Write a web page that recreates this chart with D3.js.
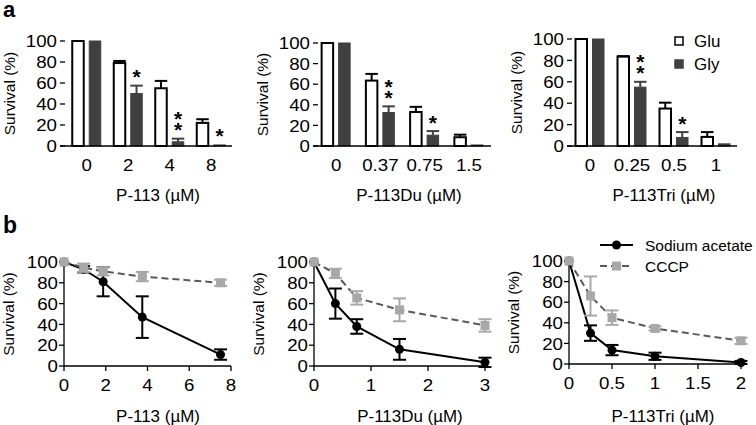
<!DOCTYPE html>
<html><head><meta charset="utf-8">
<script src="https://cdn.jsdelivr.net/npm/d3@7"></script>
<style>
body{margin:0;background:#fff;}
text{font-family:"Liberation Sans",Arial,sans-serif;fill:#000;}
</style></head>
<body><svg id="c" width="756" height="425"></svg>
<script>
// ---------- Panel a data (bar charts) ----------
const a1Cats = ["0","2","4","8"];
const a1Glu = [100, 79, 55, 22];
const a1GluErr = [0, 2, 7, 3.5];
const a1Gly = [100, 50, 4, 1];
const a1GlyErr = [0, 7.5, 3, 0];
const a1Sig = ["", "*", "**", "*"];

const a2Cats = ["0","0.37","0.75","1.5"];
const a2Glu = [100, 63.5, 33, 8.5];
const a2GluErr = [0, 6.5, 5, 2.5];
const a2Gly = [100, 32.5, 10.5, 1];
const a2GlyErr = [0, 6, 4, 0];
const a2Sig = ["", "**", "*", ""];

const a3Cats = ["0","0.25","0.5","1"];
const a3Glu = [100, 83.5, 35, 8.5];
const a3GluErr = [0, 0.5, 5.5, 4.5];
const a3Gly = [100, 55, 8, 2];
const a3GlyErr = [0, 5, 5, 0];
const a3Sig = ["", "**", "*", ""];

const barLegend = ["Glu", "Gly"];
const yTicks = [0, 20, 40, 60, 80, 100];

// ---------- Panel b data (line charts) ----------
const b1X = [0, 0.94, 1.875, 3.75, 7.5];
const b1Na = [100, 93, 81, 47, 11];
const b1NaErr = [0, 3, 14, 20, 5];
const b1Cccp = [100, 94.5, 91, 86, 80];
const b1CccpErr = [0, 4, 4, 4.5, 3];
const b1Ticks = [0, 2, 4, 6, 8];

const b2X = [0, 0.375, 0.75, 1.5, 3];
const b2Na = [100, 60, 38, 16, 3.5];
const b2NaErr = [0, 14.5, 7, 10, 4.5];
const b2Cccp = [100, 89, 65.5, 54, 39];
const b2CccpErr = [0, 4.5, 6.5, 11, 6];
const b2Ticks = [0, 1, 2, 3];

const b3X = [0, 0.25, 0.5, 1, 2];
const b3Na = [100, 30, 13.5, 7.5, 1.5];
const b3NaErr = [0, 7.5, 5, 3.5, 1.5];
const b3Cccp = [100, 66, 45, 34.5, 22.5];
const b3CccpErr = [0, 19, 7, 2, 3];
const b3Ticks = [0, 0.5, 1, 1.5, 2];

const lineLegend = ["Sodium acetate", "CCCP"];

// ---------- styles ----------
const DARK = "#404040", GRAY = "#a8a8a8", DASH = "#595959";
const TICK_FS = 17, TICK_SX = 1.1;
const TITLE_FS = 16, TITLE_SX = 1.06;

const svg = d3.select("#c");

function txt(g, x, y, s, size, sx, anchor, dy) {
  return g.append("text")
    .attr("transform", `translate(${x},${y}) scale(${sx},1)`)
    .attr("text-anchor", anchor || "start")
    .attr("dy", dy || 0)
    .attr("font-size", size).text(s);
}

txt(svg, 3, 17, "a", 22, 1, "start").attr("font-weight", "bold");
txt(svg, 3, 233, "b", 23, 1, "start").attr("font-weight", "bold");

function yAxisTicks(g, y, ax, labelRight) {
  yTicks.forEach(t => {
    g.append("line").attr("x1", ax - 5).attr("x2", ax).attr("y1", y(t)).attr("y2", y(t))
      .attr("stroke", "#000").attr("stroke-width", 1.3);
    txt(g, labelRight, y(t), t, TICK_FS, TICK_SX, "end", "0.36em");
  });
}

function ylabel(g, x, cy) {
  g.append("text").attr("transform", `translate(${x},${cy}) rotate(-90)`)
    .attr("text-anchor", "middle").attr("font-size", 15.5).text("Survival (%)");
}

// ---------- bar panels ----------
const barPanels = [
  {cats: a1Cats, glu: a1Glu, gluErr: a1GluErr, gly: a1Gly, glyErr: a1GlyErr, sig: a1Sig,
   title: "P-113 (µM)", range: [66, 232], ax: 65, y100: 41, y0: 146, titleX: 158},
  {cats: a2Cats, glu: a2Glu, gluErr: a2GluErr, gly: a2Gly, glyErr: a2GlyErr, sig: a2Sig,
   title: "P-113Du (µM)", range: [314, 491], ax: 318, y100: 43, y0: 146, titleX: 409},
  {cats: a3Cats, glu: a3Glu, gluErr: a3GluErr, gly: a3Gly, glyErr: a3GlyErr, sig: a3Sig,
   title: "P-113Tri (µM)", range: [569, 737], ax: 572, y100: 39, y0: 146, titleX: 664}
];

barPanels.forEach(p => {
  const g = svg.append("g");
  const x = d3.scaleBand().domain(p.cats).range(p.range);
  const y = d3.scaleLinear().domain([0, 100]).range([p.y0, p.y100]);
  const bw = 11.5;
  const series = [
    {vals: p.glu, errs: p.gluErr, off: -14.5, fill: "#fff", stroke: "#000"},
    {vals: p.gly, errs: p.glyErr, off: 2.5, fill: DARK, stroke: DARK}
  ];
  series.forEach(s => {
    p.cats.forEach((c, i) => {
      const cx = x(c) + x.bandwidth() / 2 + s.off;
      const v = s.vals[i], e = s.errs[i];
      if (e > 0) {
        g.append("line").attr("x1", cx + bw / 2).attr("x2", cx + bw / 2)
          .attr("y1", y(v)).attr("y2", y(v + e)).attr("stroke", s.stroke).attr("stroke-width", 2);
        g.append("line").attr("x1", cx - 0.5).attr("x2", cx + bw + 0.5)
          .attr("y1", y(v + e)).attr("y2", y(v + e)).attr("stroke", s.stroke).attr("stroke-width", 2);
      }
      g.append("rect").attr("x", cx).attr("y", y(v)).attr("width", bw)
        .attr("height", Math.max(0.5, y(0) - y(v)))
        .attr("fill", s.fill).attr("stroke", s.stroke).attr("stroke-width", s.fill === "#fff" ? 2 : 1);
    });
  });
  // significance asterisks above the Gly bars: one text element, per-glyph x/y lists
  p.cats.forEach((c, i) => {
    const s = p.sig[i];
    if (!s) return;
    const cx = x(c) + x.bandwidth() / 2 + 2.5 + bw / 2;
    const cap = y(p.gly[i] + p.glyErr[i]);
    const n = s.length;
    const xs = d3.range(n).map(() => cx).join(" ");
    const ys = d3.range(n).map(k => cap - 1.5 - (n - 1 - k) * 11).join(" ");
    g.append("text").attr("x", xs).attr("y", ys).attr("text-anchor", "middle")
      .attr("font-size", 21).attr("font-weight", "bold").text(s);
  });
  g.append("line").attr("x1", p.ax - 5).attr("x2", p.range[1]).attr("y1", p.y0).attr("y2", p.y0)
    .attr("stroke", "#000").attr("stroke-width", 1.3);
  yAxisTicks(g, y, p.ax, p.ax - 8);
  p.cats.forEach(c => {
    txt(g, x(c) + x.bandwidth() / 2, 171, c, TICK_FS, TICK_SX, "middle");
  });
  txt(g, p.titleX, 201, p.title, TITLE_FS, TITLE_SX, "middle");
  ylabel(g, p.ax - 50, (p.y0 + p.y100) / 2);
});

// legend a
const legA = svg.append("g");
barLegend.forEach((t, i) => {
  const cy = 41 + i * 23;
  legA.append("rect").attr("x", 675).attr("y", cy - 4).attr("width", 8).attr("height", 8)
    .attr("fill", i === 0 ? "#fff" : DARK).attr("stroke", i === 0 ? "#000" : DARK).attr("stroke-width", 1.5);
  txt(legA, 694, cy, t, TITLE_FS, TITLE_SX, "start", "0.36em");
});

// ---------- line panels ----------
const linePanels = [
  {xs: b1X, na: b1Na, naErr: b1NaErr, cc: b1Cccp, ccErr: b1CccpErr, ticks: b1Ticks, max: 8,
   title: "P-113 (µM)", x0: 64, x1: 231, y100: 262, y0: 366, titleX: 158},
  {xs: b2X, na: b2Na, naErr: b2NaErr, cc: b2Cccp, ccErr: b2CccpErr, ticks: b2Ticks, max: 3,
   title: "P-113Du (µM)", x0: 314, x1: 485, y100: 262, y0: 366, titleX: 410},
  {xs: b3X, na: b3Na, naErr: b3NaErr, cc: b3Cccp, ccErr: b3CccpErr, ticks: b3Ticks, max: 2,
   title: "P-113Tri (µM)", x0: 569, x1: 741, y100: 261, y0: 364, titleX: 663}
];

linePanels.forEach(p => {
  const g = svg.append("g");
  const x = d3.scaleLinear().domain([0, p.max]).range([p.x0, p.x1]);
  const y = d3.scaleLinear().domain([0, 100]).range([p.y0, p.y100]);
  g.append("line").attr("x1", p.x0).attr("x2", p.x0).attr("y1", p.y0).attr("y2", p.y100)
    .attr("stroke", "#000").attr("stroke-width", 1.3);
  g.append("line").attr("x1", p.x0).attr("x2", p.x1).attr("y1", p.y0).attr("y2", p.y0)
    .attr("stroke", "#000").attr("stroke-width", 1.3);
  yAxisTicks(g, y, p.x0, p.x0 - 6);
  p.ticks.forEach(t => {
    g.append("line").attr("x1", x(t)).attr("x2", x(t)).attr("y1", p.y0).attr("y2", p.y0 + 5)
      .attr("stroke", "#000").attr("stroke-width", 1.3);
    txt(g, x(t), p.y0 + 25, t, TICK_FS, TICK_SX, "middle");
  });
  txt(g, p.titleX, 422, p.title, TITLE_FS, TITLE_SX, "middle");
  ylabel(g, p.x0 - 50, (p.y0 + p.y100) / 2);

  const line = d3.line().x(d => x(d[0])).y(d => y(d[1]));
  function errs(vals, ev, color) {
    vals.forEach((v, i) => {
      const e = ev[i];
      if (e <= 0) return;
      const cx = x(p.xs[i]);
      g.append("line").attr("x1", cx).attr("x2", cx).attr("y1", y(v - e)).attr("y2", y(v + e))
        .attr("stroke", color).attr("stroke-width", 2);
      [v - e, v + e].forEach(w => g.append("line").attr("x1", cx - 6.5).attr("x2", cx + 6.5)
        .attr("y1", y(w)).attr("y2", y(w)).attr("stroke", color).attr("stroke-width", 2));
    });
  }
  g.append("path").attr("d", line(p.xs.map((d, i) => [d, p.na[i]])))
    .attr("fill", "none").attr("stroke", "#000").attr("stroke-width", 2);
  errs(p.na, p.naErr, "#000");
  p.xs.forEach((d, i) => g.append("circle").attr("cx", x(d)).attr("cy", y(p.na[i])).attr("r", 4.5).attr("fill", "#000"));
  g.append("path").attr("d", line(p.xs.map((d, i) => [d, p.cc[i]])))
    .attr("fill", "none").attr("stroke", DASH).attr("stroke-width", 2).attr("stroke-dasharray", "7,4");
  errs(p.cc, p.ccErr, GRAY);
  p.xs.forEach((d, i) => g.append("rect").attr("x", x(d) - 4.5).attr("y", y(p.cc[i]) - 4.5)
    .attr("width", 9).attr("height", 9).attr("fill", GRAY));
});

// legend b
const legB = svg.append("g");
lineLegend.forEach((t, i) => {
  const cy = 245 + i * 21;
  legB.append("line").attr("x1", 600).attr("x2", 633).attr("y1", cy).attr("y2", cy)
    .attr("stroke", i === 0 ? "#000" : DASH).attr("stroke-width", 2)
    .attr("stroke-dasharray", i === 0 ? null : "7,4");
  if (i === 0) legB.append("circle").attr("cx", 616.5).attr("cy", cy).attr("r", 4.5).attr("fill", "#000");
  else legB.append("rect").attr("x", 612).attr("y", cy - 4.5).attr("width", 9).attr("height", 9).attr("fill", GRAY);
  txt(legB, 645, cy, t, 15.5, 1, "start", "0.36em");
});
</script></body></html>
